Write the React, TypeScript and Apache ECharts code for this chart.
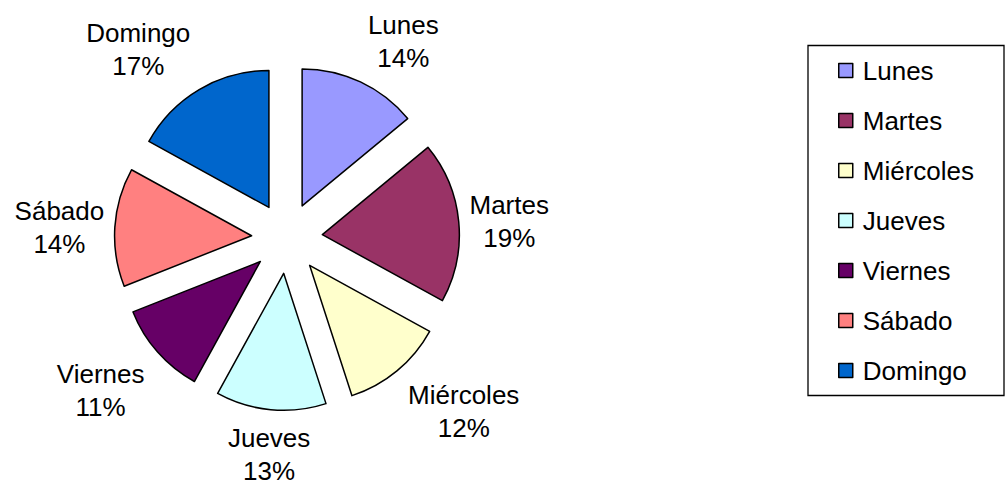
import React, { useEffect, useRef } from "react";
import * as echarts from "echarts";

const categories = ["Lunes", "Martes", "Miércoles", "Jueves", "Viernes", "Sábado", "Domingo"];
const values = [14, 19, 12, 13, 11, 14, 17];
const colors = ["#9999FF", "#993366", "#FFFFCC", "#CCFFFF", "#660066", "#FF8080", "#0066CC"];

const FONT = "'Liberation Sans', Arial, sans-serif";
const FONT_SIZE = 26;
const CX = 287;
const CY = 238;
const RADIUS = 137;
const EXPLODE = 35.5;
const LABEL_DIST = 190;

function sat(v: number) {
  const a = Math.abs(v);
  const m = Math.max(0, Math.min(1, (a - 0.15) / 0.25));
  return Math.sign(v) * m;
}

function labelText(i: number, total: number) {
  return `${categories[i]}\n${Math.round((values[i] / total) * 100)}%`;
}

export default function App() {
  const ref = useRef<HTMLDivElement>(null);
  useEffect(() => {
    if (!ref.current) return;
    const chart = echarts.init(ref.current, undefined, { renderer: "svg" });
    const total = values.reduce((a, b) => a + b, 0);
    const midAngles: number[] = [];
    let acc = 0;
    values.forEach((v) => {
      midAngles.push(((acc + v / 2) / total) * Math.PI * 2);
      acc += v;
    });
    const canvas = document.createElement("canvas");
    const ctx = canvas.getContext("2d")!;
    ctx.font = `${FONT_SIZE}px ${FONT}`;
    const halfWidths = categories.map((_, i) =>
      Math.max(...labelText(i, total).split("\n").map((t) => ctx.measureText(t).width)) / 2
    );

    const series = categories.map((_, i) => {
      const a = midAngles[i];
      return {
        type: "pie",
        name: categories[i],
        center: [CX + EXPLODE * Math.sin(a), CY - EXPLODE * Math.cos(a)],
        radius: RADIUS,
        startAngle: 90,
        clockwise: true,
        avoidLabelOverlap: false,
        silent: true,
        emphasis: { disabled: true },
        label: {
          position: "outside",
          formatter: (p: any) => labelText(p.dataIndex, total),
          fontFamily: FONT,
          fontSize: FONT_SIZE,
          lineHeight: 33,
          color: "#000",
        },
        labelLine: { show: false, length: 45, length2: 0 },
        labelLayout: (p: any) => {
          const ang = midAngles[p.dataIndex];
          const s = Math.sin(ang);
          const c = Math.cos(ang);
          const hw = halfWidths[p.dataIndex];
          const hh = 26;
          const d = LABEL_DIST - 7 * Math.max(0, (Math.abs(s) - 0.9) / 0.1);
          return {
            x: CX + d * s + hw * sat(s),
            y: CY - d * c - hh * sat(c) + 1,
            align: "center",
            verticalAlign: "middle",
          };
        },
        data: categories.map((name, j) => ({
          name,
          value: values[j],
          itemStyle:
            j === i
              ? { color: colors[j], borderColor: "#000", borderWidth: 1.5 }
              : { color: "rgba(0,0,0,0)", borderWidth: 0 },
          label: { show: j === i },
        })),
      };
    });

    chart.setOption({
      animation: false,
      backgroundColor: "#fff",
      legend: {
        orient: "vertical",
        left: 808,
        top: 45.5,
        padding: [12, 30, 12, 30],
        borderColor: "#000",
        borderWidth: 1.3,
        itemWidth: 14,
        itemHeight: 14,
        itemGap: 24,
        icon: "rect",
        selectedMode: false,
        textStyle: { fontFamily: FONT, fontSize: FONT_SIZE, color: "#000", padding: [0, 0, 0, 5] },
        data: categories.map((name, i) => ({
          name,
          itemStyle: { color: colors[i], borderColor: "#000", borderWidth: 1.5 },
        })),
      },
      series,
    });
    return () => chart.dispose();
  }, []);
  return (
    <div
      ref={ref}
      style={{ position: "fixed", left: 0, top: 0, width: 1007, height: 486 }}
    />
  );
}
